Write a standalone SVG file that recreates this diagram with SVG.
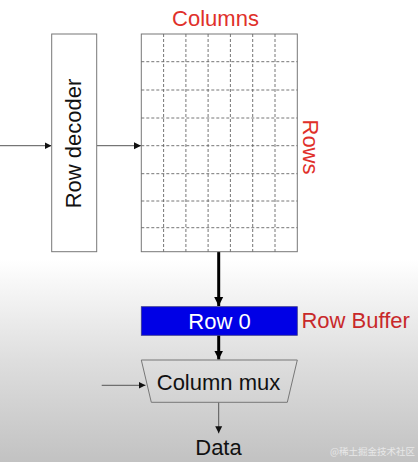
<svg xmlns="http://www.w3.org/2000/svg" width="418" height="462" viewBox="0 0 418 462">
<defs>
<linearGradient id="bg" x1="0" y1="0" x2="0" y2="462" gradientUnits="userSpaceOnUse">
<stop offset="0" stop-color="#ffffff"/>
<stop offset="0.56" stop-color="#ffffff"/>
<stop offset="0.78" stop-color="#dedede"/>
<stop offset="1" stop-color="#c2c2c2"/>
</linearGradient>
<marker id="ah" markerWidth="8" markerHeight="8" refX="7" refY="4" orient="auto" markerUnits="userSpaceOnUse">
<path d="M0,0.5 L7,4 L0,7.5 Z" fill="#111"/>
</marker>
<marker id="ahb" markerWidth="10" markerHeight="10" refX="9" refY="5" orient="auto" markerUnits="userSpaceOnUse">
<path d="M0,0.5 L9,5 L0,9.5 Z" fill="#000"/>
</marker>
<style>
.box{fill:#fff;stroke:#777;stroke-width:1}
.grid{stroke:#666;stroke-width:0.9;stroke-dasharray:3,2;fill:none}
.thin{stroke:#555;stroke-width:1;fill:none}
.thick{stroke:#000;stroke-width:3;fill:none}
.t{font-family:"Liberation Sans",Arial,sans-serif;font-size:22px;text-anchor:middle}
.red{fill:#e0302a}
</style>
</defs>
<rect width="418" height="462" fill="url(#bg)"/>

<g id="connectors">
<line class="thin" x1="0" y1="145.7" x2="51.5" y2="145.7" marker-end="url(#ah)"/>
<line class="thin" x1="96.7" y1="145.7" x2="141" y2="145.7" marker-end="url(#ah)"/>
<line class="thick" x1="218.7" y1="251.7" x2="218.7" y2="306" marker-end="url(#ahb)"/>
<line class="thick" x1="218.7" y1="335.3" x2="218.7" y2="359.5" marker-end="url(#ahb)"/>
<line class="thin" x1="101.7" y1="385.3" x2="145.5" y2="385.3" marker-end="url(#ah)"/>
<line class="thin" x1="218.7" y1="402.3" x2="218.7" y2="433.3" marker-end="url(#ah)"/>
</g>

<g id="row-decoder">
<rect class="box" x="51.7" y="34" width="45" height="217.7"/>
<text class="t" transform="translate(81,143.5) rotate(-90)" fill="#111">Row decoder</text>
</g>

<g id="array">
<rect class="box" x="141.3" y="34" width="156" height="217.7"/>
<g class="grid">
<line x1="163.6" y1="34" x2="163.6" y2="251.7"/>
<line x1="185.9" y1="34" x2="185.9" y2="251.7"/>
<line x1="208.1" y1="34" x2="208.1" y2="251.7"/>
<line x1="230.4" y1="34" x2="230.4" y2="251.7"/>
<line x1="252.7" y1="34" x2="252.7" y2="251.7"/>
<line x1="275" y1="34" x2="275" y2="251.7"/>
<line x1="141.3" y1="61.7" x2="297.3" y2="61.7"/>
<line x1="141.3" y1="90" x2="297.3" y2="90"/>
<line x1="141.3" y1="118" x2="297.3" y2="118"/>
<line x1="141.3" y1="145.7" x2="297.3" y2="145.7"/>
<line x1="141.3" y1="173.7" x2="297.3" y2="173.7"/>
<line x1="141.3" y1="201" x2="297.3" y2="201"/>
<line x1="141.3" y1="227.7" x2="297.3" y2="227.7"/>
</g>
<text class="t red" x="215.5" y="26">Columns</text>
<text class="t red" transform="translate(303,147) rotate(90)">Rows</text>
</g>

<g id="row-buffer">
<rect x="141.3" y="306.7" width="156" height="28.6" fill="#0000e6" stroke="#3a3a8a" stroke-width="0.8"/>
<text class="t" x="219.5" y="328.5" fill="#fff">Row 0</text>
<text class="t" x="355.7" y="327.5" fill="#c8282a">Row Buffer</text>
</g>

<g id="column-mux">
<polygon points="141.3,360 297.3,360 287.3,402.3 151.3,402.3" fill="none" stroke="#777" stroke-width="1"/>
<text class="t" x="218.5" y="389.5" fill="#111">Column mux</text>
</g>

<g id="data">
<text class="t" x="218.5" y="454.5" fill="#111">Data</text>
</g>

<text x="415" y="455" font-family="'Noto Sans CJK SC',sans-serif" font-size="9.5" fill="#e8e8e8" text-anchor="end">@稀土掘金技术社区</text>
</svg>
